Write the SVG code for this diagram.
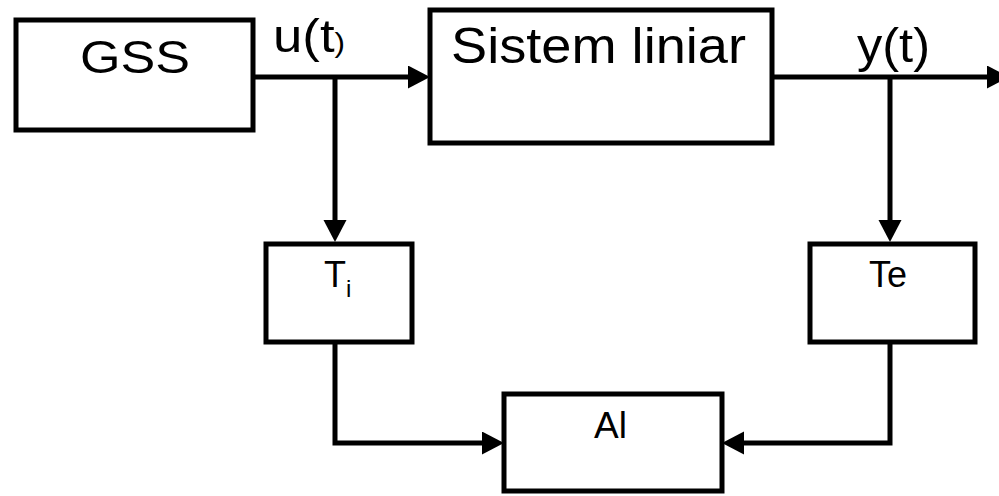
<svg xmlns="http://www.w3.org/2000/svg" width="999" height="496" viewBox="0 0 999 496">
  <style>
    .box { fill: #ffffff; stroke: #000000; stroke-width: 5; }
    .wire { fill: none; stroke: #000000; stroke-width: 5; stroke-linejoin: miter; }
    .lbl { font-family: "Liberation Sans", Arial, sans-serif; fill: #000000; }
  </style>
  <defs>
    <marker id="arrow" markerUnits="userSpaceOnUse" markerWidth="24" markerHeight="24" refX="12" refY="11.5" orient="auto">
      <path d="M0,0 L22,11.5 L0,23 z" fill="#000000"/>
    </marker>
  </defs>
  <rect width="999" height="496" fill="#ffffff"/>

  <g id="connectors">
    <path class="wire" d="M255,77 H420" marker-end="url(#arrow)"/>
    <path class="wire" d="M335,77 V232" marker-end="url(#arrow)"/>
    <path class="wire" d="M772,77 H999" marker-end="url(#arrow)"/>
    <path class="wire" d="M890,77 V232" marker-end="url(#arrow)"/>
    <path class="wire" d="M335,342 V443 H494" marker-end="url(#arrow)"/>
    <path class="wire" d="M890,342 V443 H732" marker-end="url(#arrow)"/>
  </g>

  <g id="labels">
    <text class="lbl" x="273" y="52" font-size="47" textLength="72" lengthAdjust="spacingAndGlyphs">u(t<tspan font-size="28">)</tspan></text>
    <text class="lbl" x="857" y="62" font-size="49" textLength="73" lengthAdjust="spacingAndGlyphs">y(t)</text>
  </g>

  <g id="gss">
    <rect class="box" x="16" y="20" width="237" height="110"/>
    <text class="lbl" x="80" y="73" font-size="47" textLength="110" lengthAdjust="spacingAndGlyphs">GSS</text>
  </g>

  <g id="sistem">
    <rect class="box" x="430" y="10" width="342" height="133"/>
    <text class="lbl" x="451" y="63" font-size="50" textLength="295" lengthAdjust="spacingAndGlyphs">Sistem liniar</text>
  </g>

  <g id="ti">
    <rect class="box" x="266" y="244" width="146" height="98"/>
    <text class="lbl" x="324" y="287" font-size="36">T<tspan font-size="24" dy="10">i</tspan></text>
  </g>

  <g id="te">
    <rect class="box" x="810" y="244" width="165" height="98"/>
    <text class="lbl" x="869" y="287" font-size="36">Te</text>
  </g>

  <g id="al">
    <rect class="box" x="504" y="394" width="218" height="97"/>
    <text class="lbl" x="594" y="438" font-size="37">Al</text>
  </g>
</svg>
